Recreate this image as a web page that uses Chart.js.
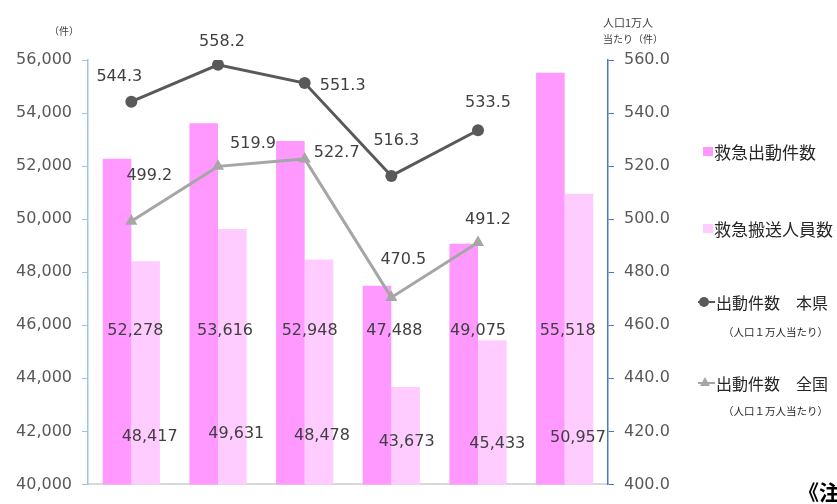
<html>
<head>
<meta charset="utf-8">
<script src="https://cdn.jsdelivr.net/npm/chart.js@4.4.1/dist/chart.umd.min.js"></script>
<style>
  body { margin:0; background:#fff; }
  #wrap { position:relative; width:837px; height:504px; overflow:hidden; font-family:"Noto Sans CJK JP", sans-serif; color:#262626; }
  #wrap canvas { position:absolute; left:0; top:0; }
  .t { position:absolute; white-space:nowrap; line-height:1; }
  .sq { position:absolute; width:10px; height:9px; }
</style>
</head>
<body>
<div id="wrap">
  <canvas id="myChart" width="837" height="504"></canvas>
  <div class="t" style="left:49px;top:26px;font-size:10px;color:#404040;">（件）</div>
  <div class="t" style="left:603px;top:17px;font-size:11px;color:#404040;">人口1万人</div>
  <div class="t" style="left:603px;top:34px;font-size:10px;color:#404040;">当たり（件）</div>

  <div class="sq" style="left:703px;top:147px;background:#FF99FF;"></div>
  <div class="t" style="left:714px;top:143px;font-size:17px;">救急出動件数</div>
  <div class="sq" style="left:703px;top:224px;background:#FFCCFF;"></div>
  <div class="t" style="left:714px;top:220px;font-size:17px;">救急搬送人員数</div>

  <div style="position:absolute;left:698px;top:301px;width:17px;height:2px;background:#595959;"></div>
  <div style="position:absolute;left:699px;top:297px;width:10px;height:10px;border-radius:50%;background:#595959;"></div>
  <div class="t" style="left:716px;top:294px;font-size:16px;">出動件数　本県</div>
  <div class="t" style="left:723px;top:327px;font-size:10.5px;">（人口１万人当たり）</div>

  <div style="position:absolute;left:698px;top:382px;width:17px;height:2px;background:#A6A6A6;"></div>
  <div style="position:absolute;left:700px;top:377px;width:0;height:0;border-left:5px solid transparent;border-right:5px solid transparent;border-bottom:9px solid #A6A6A6;"></div>
  <div class="t" style="left:716px;top:375px;font-size:16px;">出動件数　全国</div>
  <div class="t" style="left:723px;top:406px;font-size:10.5px;">（人口１万人当たり）</div>

  <div class="t" style="left:798px;top:481px;font-size:21px;font-weight:bold;color:#000;">《注》</div>
</div>
<script>
// data
var categories = ['1', '2', '3', '4', '5', '6'];
var dispatchCount = [52278, 53616, 52948, 47488, 49075, 55518];   // 救急出動件数
var transportCount = [48417, 49631, 48478, 43673, 45433, 50957];  // 救急搬送人員数
var prefPer10k = [544.3, 558.2, 551.3, 516.3, 533.5, null];        // 出動件数 本県
var nationPer10k = [499.2, 519.9, 522.7, 470.5, 491.2, null];      // 出動件数 全国
var leftTicks = [40000, 56000, 2000];
var rightTicks = [400, 560, 20];

// label placement (pixels / axis values), not data
var topLabelAt = 45800, topDx = [4, 7, 5, 3, 0, 3];
var bottomLabelAt = [41800, 41900, 41840, 41620, 41540, 41760], bottomDx = [4, 4, 3, 1, 5, -1];
var prefOff = [[-12, -25], [4, -23], [38, 3], [5, -35], [10, -27]];
var nationOff = [[18, -45], [35, -23], [32, -6], [12, -38], [10, -23]];

var labelPlugin = {
  id: 'valueLabels',
  afterDatasetsDraw: function(chart) {
    var ctx = chart.ctx, y = chart.scales.y;
    ctx.save();
    ctx.font = '16px "DejaVu Sans"';
    ctx.fillStyle = '#404040';
    ctx.textAlign = 'center';
    ctx.textBaseline = 'middle';
    var m1 = chart.getDatasetMeta(1).data;
    for (var i = 0; i < categories.length; i++) {
      var cx = chart.scales.x.getPixelForValue(i);
      ctx.fillText(dispatchCount[i].toLocaleString('en-US'), cx + topDx[i], y.getPixelForValue(topLabelAt));
      ctx.fillText(transportCount[i].toLocaleString('en-US'), m1[i].x + bottomDx[i], y.getPixelForValue(bottomLabelAt[i]));
    }
    var p2 = chart.getDatasetMeta(2).data, p3 = chart.getDatasetMeta(3).data;
    for (var i = 0; i < prefOff.length; i++) {
      ctx.fillText(prefPer10k[i].toFixed(1), p2[i].x + prefOff[i][0], p2[i].y + prefOff[i][1]);
      ctx.fillText(nationPer10k[i].toFixed(1), p3[i].x + nationOff[i][0], p3[i].y + nationOff[i][1]);
    }
    ctx.restore();
  }
};

var tickFont = { family: 'DejaVu Sans', size: 16 };
var ctx = document.getElementById('myChart').getContext('2d');
var chart = new Chart(ctx, {
  type: 'bar',
  data: {
    labels: categories,
    datasets: [
      { label: '救急出動件数', data: dispatchCount, backgroundColor: '#FF99FF', yAxisID: 'y', order: 2 },
      { label: '救急搬送人員数', data: transportCount, backgroundColor: '#FFCCFF', yAxisID: 'y', order: 2 },
      { type: 'line', label: '出動件数 本県', data: prefPer10k, yAxisID: 'y1', order: 1,
        borderColor: '#595959', backgroundColor: '#595959', borderWidth: 3,
        pointStyle: 'circle', pointRadius: 6, pointBorderWidth: 0 },
      { type: 'line', label: '出動件数 全国', data: nationPer10k, yAxisID: 'y1', order: 0,
        borderColor: '#A6A6A6', backgroundColor: '#A6A6A6', borderWidth: 3,
        pointStyle: 'triangle', pointRadius: 7, pointBorderWidth: 0 }
    ]
  },
  options: {
    responsive: false,
    animation: false,
    layout: { padding: { top: 60, left: 0, right: 0, bottom: 0 } },
    datasets: { bar: { categoryPercentage: 0.66, barPercentage: 1.0 } },
    plugins: { legend: { display: false }, tooltip: { enabled: false } },
    scales: {
      x: {
        ticks: { display: false },
        grid: { display: false },
        border: { color: '#D9D9D9', width: 2 },
        afterFit: function(s) { s.height = 14; }
      },
      y: {
        position: 'left',
        min: leftTicks[0], max: leftTicks[1],
        ticks: { stepSize: leftTicks[2], font: tickFont, color: '#595959', padding: 10 },
        grid: { drawOnChartArea: false, drawTicks: true, tickLength: 6, color: '#9DC3E6' },
        border: { color: '#9DC3E6', width: 1.5 },
        afterFit: function(s) { s.width = 88; }
      },
      y1: {
        position: 'right',
        min: rightTicks[0], max: rightTicks[1],
        ticks: { stepSize: rightTicks[2], font: tickFont, color: '#595959', padding: 10,
                 callback: function(v) { return v.toFixed(1); } },
        grid: { drawOnChartArea: false, drawTicks: true, tickLength: 6, color: '#4A78C8' },
        border: { color: '#4A78C8', width: 1.5 },
        afterFit: function(s) { s.width = 229; }
      }
    }
  },
  plugins: [labelPlugin]
});
</script>
</body>
</html>
